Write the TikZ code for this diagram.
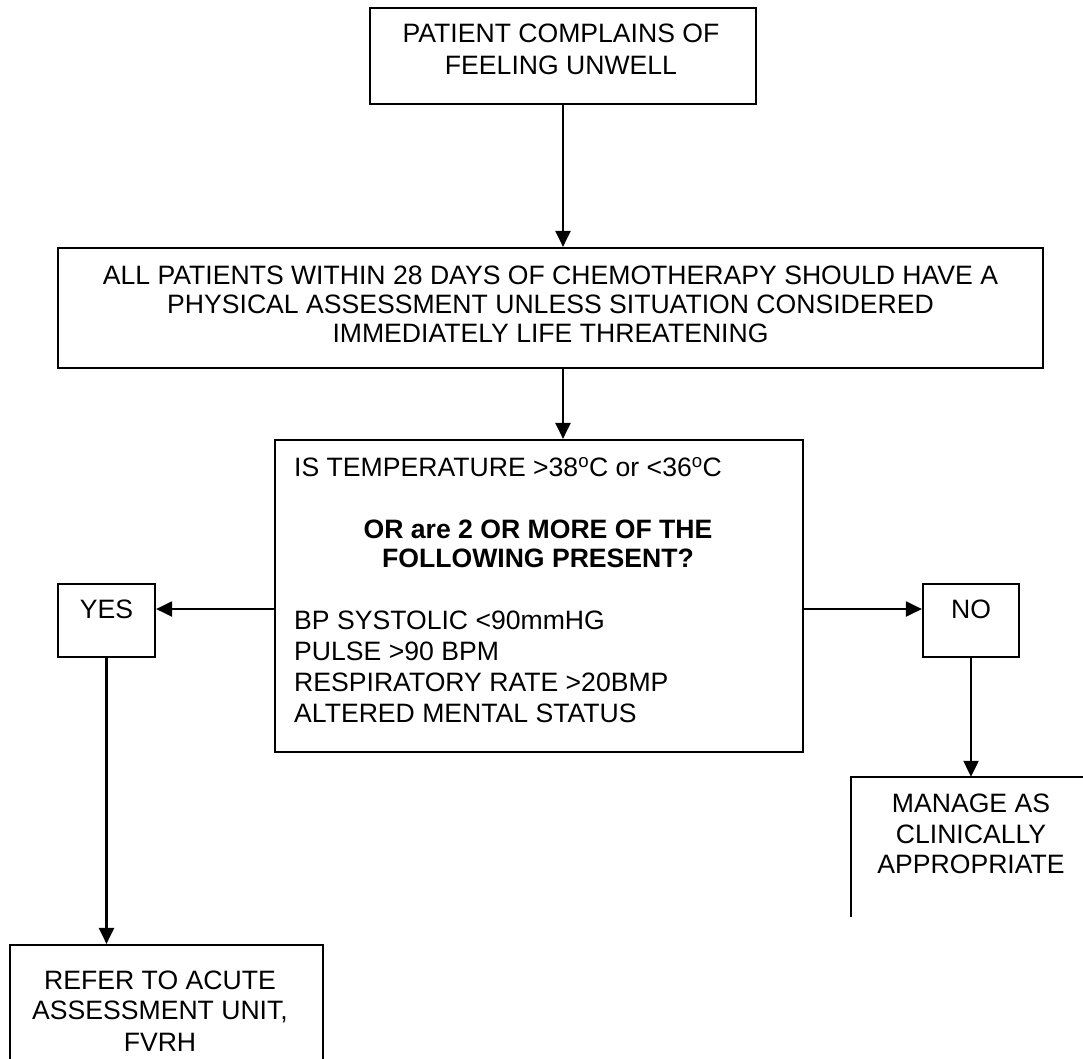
\documentclass[tikz,border=0pt]{standalone}
\usepackage{fontspec}
\setmainfont{Liberation Sans}
\usetikzlibrary{arrows.meta}
\begin{document}
\begin{tikzpicture}[x=1pt,y=-1pt,
  box/.style={draw,line width=2.2pt,inner sep=0pt},
  openbox/.style={inner sep=0pt},
  edge/.style={line width=2.2pt},
  txt/.style={inner sep=0pt,anchor=base,font=\fontsize{26.6}{30.5}\selectfont},
  ltxt/.style={txt,anchor=base west},
  btxt/.style={txt,font=\fontsize{26.6}{30.5}\selectfont\bfseries},
  arr/.style={line width=2.2pt,-{Triangle[length=16pt,width=15pt]}}]
\useasboundingbox (0,0) rectangle (1083,1058);
\clip (0,0) rectangle (1083,1058);
% boxes
\node[box,minimum width=386pt,minimum height=96pt] (b1) at (563,56) {};
\node[box,minimum width=985pt,minimum height=120pt] (b2) at (550.5,308) {};
\node[box,minimum width=528pt,minimum height=312pt] (b3) at (539,596) {};
\node[box,minimum width=97pt,minimum height=73pt] (yes) at (106.5,620.5) {};
\node[box,minimum width=96pt,minimum height=73pt] (no) at (971,620.5) {};
\node[box,minimum width=313pt,minimum height=130pt] (ref) at (166.5,1010) {};
\node[openbox,minimum width=249pt,minimum height=140pt] (man) at (975.5,847) {};
\draw[edge] (man.south west) -- (man.north west) -- (man.north east);
% texts
\node[txt] (t1a) at (561,42.5) {PATIENT COMPLAINS OF};
\node[txt] (t1b) at (561,74) {FEELING UNWELL};
\node[txt] (t2a) at (550.5,284.5) {ALL PATIENTS WITHIN 28 DAYS OF CHEMOTHERAPY SHOULD HAVE A};
\node[txt] (t2b) at (550.5,313.5) {PHYSICAL ASSESSMENT UNLESS SITUATION CONSIDERED};
\node[txt] (t2c) at (550.5,342.5) {IMMEDIATELY LIFE THREATENING};
\node[ltxt] (t3a) at (294,476.5) {IS TEMPERATURE >38\textsuperscript{o}C or <36\textsuperscript{o}C};
\node[btxt] (t3b) at (538,538.5) {OR are 2 OR MORE OF THE};
\node[btxt] (t3c) at (538,567.5) {FOLLOWING PRESENT?};
\node[ltxt] (t3d) at (294,629.5) {BP SYSTOLIC <90mmHG};
\node[ltxt] (t3e) at (294,660.5) {PULSE >90 BPM};
\node[ltxt] (t3f) at (294,691.5) {RESPIRATORY RATE >20BMP};
\node[ltxt] (t3g) at (294,722) {ALTERED MENTAL STATUS};
\node[txt] (tyes) at (106.5,618.5) {YES};
\node[txt] (tno) at (971,618.5) {NO};
\node[txt] (tra) at (160,989.5) {REFER TO ACUTE};
\node[txt] (trb) at (160,1019.5) {ASSESSMENT UNIT,};
\node[txt] (trc) at (160,1051.5) {FVRH};
\node[txt] (tma) at (971,812.5) {MANAGE AS};
\node[txt] (tmb) at (971,843.5) {CLINICALLY};
\node[txt] (tmc) at (971,873.5) {APPROPRIATE};
% connectors
\coordinate (ax) at (563,0);
\coordinate (ay) at (0,609);
\draw[arr] (b1.south -| ax) -- (b2.north -| ax);
\draw[arr] (b2.south -| ax) -- (b3.north -| ax);
\draw[arr] (b3.west |- ay) -- (yes.east |- ay);
\draw[arr] (b3.east |- ay) -- (no.west |- ay);
\draw[arr] (yes.south) -- (yes.south |- ref.north);
\draw[arr] (no.south) -- (no.south |- man.north);
\end{tikzpicture}
\end{document}
